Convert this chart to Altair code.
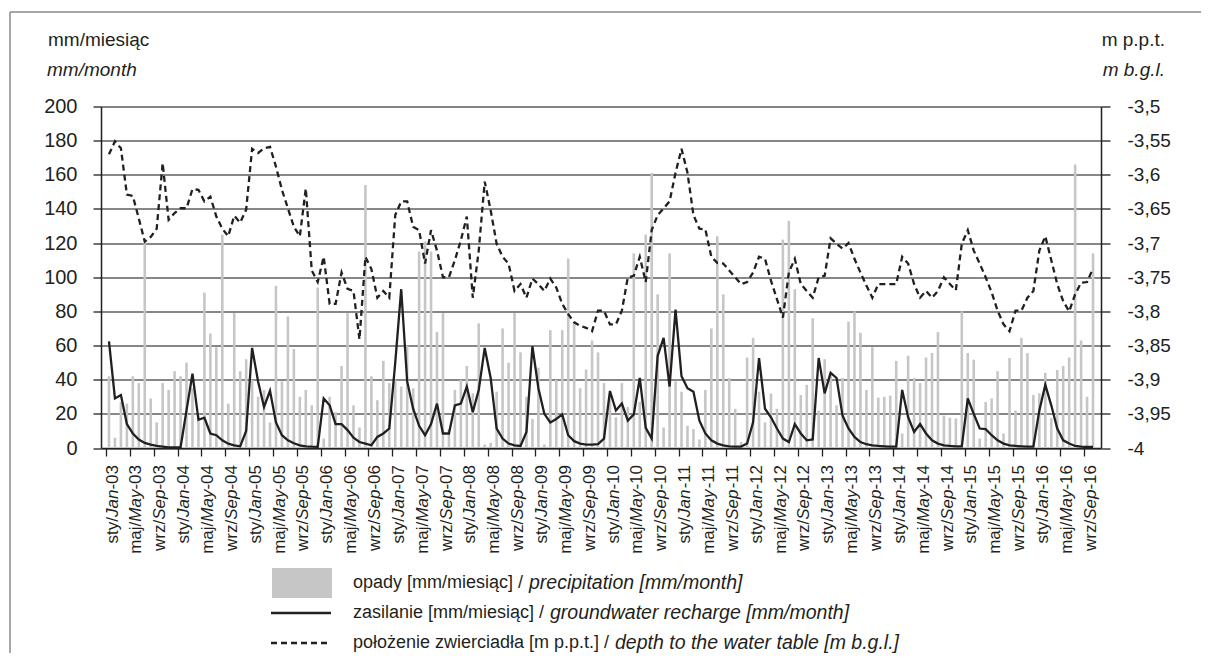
import altair as alt
import pandas as pd

# ---------------- data ----------------
months_pl = ["sty", "maj", "wrz"]
months_en = ["Jan", "May", "Sep"]
years = ["03", "04", "05", "06", "07", "08", "09", "10", "11", "12", "13", "14", "15", "16"]

# monthly precipitation [mm/month], Jan-03 .. Oct-16
precip = [
    42, 6, 27, 26, 42, 38, 120, 29, 15, 38, 34, 45,
    42, 50, 35, 20, 91, 67, 59, 125, 26, 79, 45, 52,
    40, 30, 34, 15, 95, 39, 77, 58, 30, 34, 25, 94,
    5.5, 30, 21, 48, 79, 25, 12, 154, 42, 28, 51, 38,
    40, 36, 60, 35, 115, 121, 115, 68, 79, 11, 34, 40,
    48, 32, 73, 2, 3, 33, 70, 50, 79, 56, 30, 17,
    47, 2, 69, 40, 69, 111, 74, 35, 46, 63, 56, 38,
    30, 18, 38, 24, 114, 27, 125, 161, 90, 12, 114, 39,
    33, 13, 11, 5, 34, 70, 124, 90, 41, 23, 3.5, 53,
    64.5, 33, 15, 32, 23, 122, 133, 93, 31, 37, 76, 22,
    52, 44, 25, 41, 74, 80, 67.5, 34, 59, 29.5, 30, 30.7,
    51, 8.5, 54, 41, 38, 53, 55.6, 68, 19, 17.7, 17.3, 80,
    55.6, 51.7, 5.5, 27, 29, 45, 8.5, 52.7, 22, 64.5, 55.6, 31,
    32, 44, 17.5, 45.7, 48, 53, 166, 63, 30, 114,
]

# groundwater recharge [mm/month]
recharge = [
    62.5, 29, 31, 14, 8.5, 5, 3, 2, 1.2, 0.8, 0.4, 0.3,
    0.3, 22, 43.5, 16.5, 17.7, 8.5, 7.5, 4.5, 2.5, 1.6, 1, 10,
    58.6, 39, 24, 33.5, 15, 7.5, 4.5, 2.8, 1.6, 1, 0.8, 0.7,
    29, 25, 14, 14, 10.5, 6, 3.5, 2.6, 1.6, 6.5, 8.5, 11.4,
    50, 93, 39, 23, 13, 7.5, 14, 26, 8.5, 8.5, 25, 26,
    36, 21, 34, 58.6, 41, 11.4, 5.5, 2.6, 1.6, 1.2, 9.4, 59.6,
    35, 20, 15, 17, 19.7, 7.5, 4, 2.6, 2, 2, 2.3, 5.5,
    33.4, 22, 26, 16, 19.7, 41, 11.8, 5.5, 54, 64.5, 36, 81,
    42, 35, 33, 16, 8.5, 4.5, 2.6, 1.6, 1, 0.8, 0.8, 2.6,
    15, 52.7, 23, 18, 11.4, 5.5, 3.5, 14, 8.5, 4.5, 5, 52.7,
    32, 44, 41, 19, 11.4, 6.5, 3.5, 2.2, 1.6, 1.2, 1, 0.8,
    0.8, 34, 18, 9.4, 14, 8.5, 4.5, 2.6, 1.6, 1.2, 1, 1,
    29, 20, 11.4, 11, 7.5, 4.5, 2.6, 1.6, 1.2, 1, 0.8, 0.8,
    22, 37, 25, 11.4, 4.5, 2.6, 1.2, 0.8, 0.6, 0.6,
]

# depth to the water table [m b.g.l.]
depth = [
    -3.570, -3.551, -3.561, -3.629, -3.631, -3.664, -3.698, -3.691, -3.679, -3.583, -3.666, -3.656,
    -3.649, -3.649, -3.621, -3.622, -3.639, -3.632, -3.661, -3.679, -3.690, -3.660, -3.670, -3.651,
    -3.562, -3.568, -3.561, -3.559, -3.588, -3.622, -3.649, -3.676, -3.690, -3.620, -3.740, -3.757,
    -3.720, -3.789, -3.789, -3.743, -3.767, -3.770, -3.841, -3.720, -3.738, -3.780, -3.770, -3.780,
    -3.659, -3.639, -3.639, -3.676, -3.681, -3.730, -3.681, -3.711, -3.750, -3.750, -3.725, -3.696,
    -3.661, -3.780, -3.711, -3.610, -3.652, -3.701, -3.720, -3.730, -3.770, -3.760, -3.780, -3.752,
    -3.760, -3.770, -3.752, -3.765, -3.789, -3.804, -3.816, -3.821, -3.824, -3.829, -3.799, -3.799,
    -3.819, -3.819, -3.799, -3.750, -3.748, -3.720, -3.757, -3.681, -3.659, -3.649, -3.639, -3.597,
    -3.562, -3.597, -3.659, -3.679, -3.680, -3.720, -3.729, -3.730, -3.740, -3.750, -3.760, -3.757,
    -3.743, -3.720, -3.723, -3.755, -3.782, -3.809, -3.743, -3.723, -3.760, -3.770, -3.780, -3.750,
    -3.748, -3.693, -3.701, -3.708, -3.700, -3.723, -3.743, -3.762, -3.780, -3.760, -3.760, -3.760,
    -3.760, -3.720, -3.730, -3.760, -3.780, -3.770, -3.780, -3.770, -3.750, -3.760, -3.769, -3.701,
    -3.681, -3.711, -3.730, -3.750, -3.772, -3.799, -3.819, -3.829, -3.799, -3.799, -3.780, -3.770,
    -3.711, -3.690, -3.725, -3.760, -3.785, -3.800, -3.775, -3.758, -3.757, -3.737,
]

left_ticks = [0, 20, 40, 60, 80, 100, 120, 140, 160, 180, 200]
right_ticks = [-4.0, -3.95, -3.9, -3.85, -3.8, -3.75, -3.7, -3.65, -3.6, -3.55, -3.5]

n = len(precip)
df = pd.DataFrame({"i": list(range(n)), "precip": precip, "recharge": recharge, "depth": depth})

# tick-label table (one row per labelled month: every 4th month)
lab = pd.DataFrame(
    [{"pos": 4 * k, "pl": p + "/", "en": e, "yy": "-" + y}
     for k, (y, p, e) in enumerate((y, p, e) for y in years for p, e in zip(months_pl, months_en))]
)

FONT = "Liberation Sans, Arial, Helvetica, sans-serif"
INK = "#231f20"
GRID = "#5f5f5f"
BAR = "#c6c6c6"
LFS = 17  # tick-label font size

base = alt.Chart(df).transform_calculate(xm="datum.i + 0.5")

xscale = alt.Scale(domain=[0, n], nice=False, zero=False)
xaxis = alt.Axis(
    values=list(range(0, n, 4)), labels=False,
    tickSize=8, tickColor=INK, tickWidth=1.3, domainColor=INK, domainWidth=1.5,
    grid=False, title=None,
)
lscale = alt.Scale(domain=[0, 200], nice=False, zero=True)
laxis = alt.Axis(
    values=left_ticks, grid=True, gridColor=GRID, gridWidth=1.4,
    tickSize=8, tickColor=INK, tickWidth=1.3, domainColor=INK, domainWidth=1.5,
    labelPadding=16, labelFontSize=20, labelColor=INK, labelFont=FONT, title=None,
    labelOverlap=False,
)
rscale = alt.Scale(domain=[-4, -3.5], nice=False, zero=False)
raxis = alt.Axis(
    orient="right", values=right_ticks, grid=False,
    labelExpr="replace(replace(format(datum.value, '.2~f'), '.', ','), '\u2212', '-')",
    tickSize=9, tickColor=INK, tickWidth=1.3, domainColor=INK, domainWidth=1.5,
    labelPadding=17, labelAlign="left", labelFontSize=19, labelColor=INK, labelFont=FONT,
    title=None, labelOverlap=False,
)

bars = base.mark_bar(size=2.6, color=BAR).encode(
    x=alt.X("xm:Q", scale=xscale, axis=xaxis),
    y=alt.Y("precip:Q", scale=lscale, axis=laxis),
)
rech = base.mark_line(color=INK, strokeWidth=2.3).encode(
    x=alt.X("xm:Q", scale=xscale, axis=xaxis),
    y=alt.Y("recharge:Q", scale=lscale, axis=laxis),
)
left = alt.layer(bars, rech)
dep = base.mark_line(color=INK, strokeWidth=2.3, strokeDash=[6, 4]).encode(
    x=alt.X("xm:Q", scale=xscale, axis=xaxis),
    y=alt.Y("depth:Q", scale=rscale, axis=raxis),
)
main = alt.layer(left, dep).resolve_scale(y="independent")

# rotated x tick labels: "sty/" + italic "Jan" + "-03"
labbase = alt.Chart(lab).transform_calculate(lx="datum.pos + 1.1")
Y0 = 358.5                       # top of the labels (px below plot top)
W_YY = 1.445 * LFS               # width of "-03"
W_EN = {"Jan": 1.612 * LFS, "May": 1.889 * LFS, "Sep": 1.779 * LFS}


def seg(field, y, italic=False, month=None):
    c = labbase
    if month is not None:
        c = c.transform_filter(alt.datum.en == month)
    return c.mark_text(
        angle=270, align="right", baseline="middle", font=FONT, fontSize=LFS,
        color=INK, fontStyle="italic" if italic else "normal",
    ).encode(
        x=alt.X("lx:Q", scale=xscale, axis=xaxis),
        y=alt.value(y),
        text=alt.Text(f"{field}:N"),
    )


xlabels = [seg("yy", Y0)]
for m in months_en:
    xlabels.append(seg("en", Y0 + W_YY, italic=True, month=m))
    xlabels.append(seg("pl", Y0 + W_YY + W_EN[m], month=m))

one = alt.Chart(pd.DataFrame({"k": [0]}))


def txt(s, x, y, align="left", italic=False, size=19):
    return one.mark_text(
        align=align, baseline="middle", font=FONT, fontSize=size, color=INK,
        fontStyle="italic" if italic else "normal",
    ).encode(x=alt.value(x), y=alt.value(y), text=alt.value(s))


frame_top = one.mark_rule(color="#8a8a8a", strokeWidth=1.5).encode(
    x=alt.value(-91), x2=alt.value(1200), y=alt.value(-94.5)
)
frame_left = one.mark_rule(color="#8a8a8a", strokeWidth=1.5).encode(
    x=alt.value(-91), y=alt.value(-94.5), y2=alt.value(700)
)

titles = [
    txt("mm/miesiąc", -53, -66.5),
    txt("mm/month", -54, -37, italic=True),
    txt("m p.p.t.", 1064, -66.5, align="right"),
    txt("m b.g.l.", 1064, -37, align="right", italic=True),
]

leg_box = one.mark_rect(color=BAR).encode(
    x=alt.value(171), x2=alt.value(231), y=alt.value(461.5), y2=alt.value(491.5)
)
leg_solid = one.mark_rule(color=INK, strokeWidth=2.3).encode(
    x=alt.value(170), x2=alt.value(230), y=alt.value(506.5)
)
leg_dash = one.mark_rule(color=INK, strokeWidth=2.3, strokeDash=[6, 4]).encode(
    x=alt.value(170), x2=alt.value(230), y=alt.value(536.5)
)
legend_texts = [
    txt("opady [mm/miesiąc] /", 252, 476.5, size=18),
    txt("precipitation [mm/month]", 428, 476.5, italic=True, size=19.5),
    txt("zasilanie [mm/miesiąc] /", 252, 506.5, size=18),
    txt("groundwater recharge [mm/month]", 449, 506.5, italic=True, size=19.5),
    txt("położenie zwierciadła [m p.p.t.] /", 252, 536.5, size=18),
    txt("depth to the water table [m b.g.l.]", 514, 536.5, italic=True, size=19.5),
]

chart = alt.layer(
    frame_top, frame_left, main, *xlabels, *titles, leg_box, leg_solid, leg_dash, *legend_texts
).properties(
    width=1000, height=341.5,
    autosize=alt.AutoSizeParams(type="none"),
    padding={"left": 93, "top": 98.5, "right": 100, "bottom": 205},
    background="white",
).configure_view(strokeWidth=0).configure(font=FONT)

chart.save("out.html", embed_options={"renderer": "svg", "actions": False})
